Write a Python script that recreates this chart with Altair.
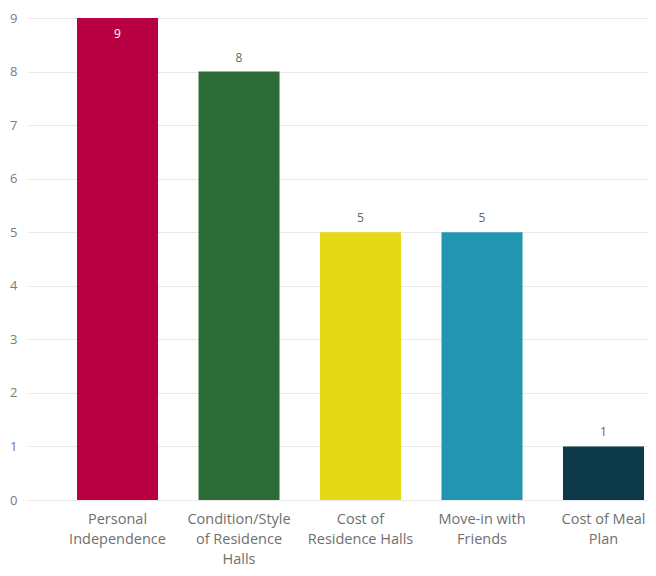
import altair as alt
import pandas as pd

categories = ["Personal|Independence", "Condition/Style|of Residence|Halls",
              "Cost of|Residence Halls", "Move-in with|Friends", "Cost of Meal|Plan"]
values = [9, 8, 5, 5, 1]
colors = ["#B80042", "#2E6C37", "#E5D817", "#2296B1", "#0D394A"]

df = pd.DataFrame({"cat": categories, "value": values})

FONT = "Open Sans"

x = alt.X("cat:N", sort=None, title=None,
          scale=alt.Scale(paddingInner=0.333, paddingOuter=0.218, align=0.925),
          axis=alt.Axis(labelExpr="split(datum.label, '|')", labelAngle=0,
                        labelFontSize=14.5, labelColor="#6f6f6f", labelFont=FONT,
                        labelLineHeight=20, labelPadding=12, ticks=False, domain=False,
                        labelBaseline="top"))
y = alt.Y("value:Q", title=None,
          scale=alt.Scale(domain=[0, 9], nice=False),
          axis=alt.Axis(values=list(range(10)), grid=True, gridColor="#e8e8e8",
                        ticks=False, domain=False, labelFontSize=13, labelColor="#7a7a7a",
                        labelFont=FONT, labelPadding=11))

base = alt.Chart(df)
bars = base.mark_bar().encode(
    x=x, y=y,
    color=alt.Color("cat:N", sort=None, legend=None,
                    scale=alt.Scale(domain=categories, range=colors)),
)
top = max(values)
inside = base.transform_filter(alt.datum.value == top).mark_text(
    dy=16, color="white", fontSize=12, font=FONT
).encode(x=x, y=y, text="value:Q")
above = base.transform_filter(alt.datum.value != top).mark_text(
    dy=-14, color="#666666", fontSize=12, font=FONT
).encode(x=x, y=y, text="value:Q")

chart = (bars + inside + above).properties(
    width=620, height=482,
    autosize=alt.AutoSizeParams(type="none"),
    padding={"left": 20, "top": 10, "right": 0, "bottom": 68},
).configure_view(stroke=None)

chart.save("out.html", embed_options={"renderer": "svg", "actions": False})
